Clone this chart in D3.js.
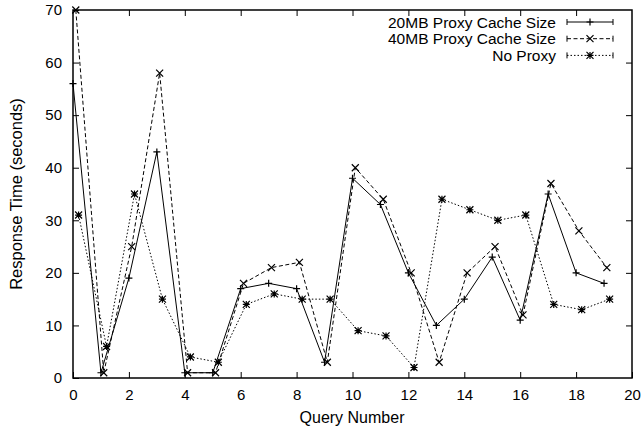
<!DOCTYPE html>
<html>
<head>
<meta charset="utf-8">
<script src="https://cdn.jsdelivr.net/npm/d3@7"></script>
<style>
 body { margin: 0; background: #fff; }
 text { font-family: "Liberation Sans", Arial, sans-serif; font-size: 15px; fill: #000; }
</style>
</head>
<body>
<script>
'use strict'
// Response time per query, three proxy setups (gnuplot style line chart)

const queries = d3.range(0, 20);
const proxy20 = [56, 1, 19, 43, 1, 1, 17, 18, 17, 3, 38, 33, 20, 10, 15, 23, 11, 35, 20, 18];
const proxy40 = [70, 1, 25, 58, 1, 1, 18, 21, 22, 3, 40, 34, 20, 3, 20, 25, 12, 37, 28, 21];
const noProxy = [31, 6, 35, 15, 4, 3, 14, 16, 15, 15, 9, 8, 2, 34, 32, 30, 31, 14, 13, 15];
const seriesNames = ["20MB Proxy Cache Size", "40MB Proxy Cache Size", "No Proxy"];
const xTicks = [0, 2, 4, 6, 8, 10, 12, 14, 16, 18, 20];
const yTicks = [0, 10, 20, 30, 40, 50, 60, 70];

// each series is drawn a little to the right of the previous one
const series = [
 { name: seriesNames[0], values: proxy20, shift: 0, dash: null, marker: "plus" },
 { name: seriesNames[1], values: proxy40, shift: 0.1, dash: "4,2.5", marker: "cross" },
 { name: seriesNames[2], values: noProxy, shift: 0.2, dash: "1.5,2", marker: "star" }
];

const width = 641, height = 431;
const plotLeft = 73, plotRight = 632, plotTop = 10, plotBottom = 378;

let svg = d3.select("body").append("svg")
 .attr("width", width)
 .attr("height", height);

let x = d3.scaleLinear().domain([0, 20]).range([plotLeft, plotRight]);
let y = d3.scaleLinear().domain([0, 70]).range([plotBottom, plotTop]);

// axes with inside ticks, mirrored on the other side
svg.append("g")
 .attr("transform", "translate(0," + plotBottom + ")")
 .call(d3.axisBottom(x).tickValues(xTicks).tickSize(-6).tickPadding(11).tickFormat(d3.format("d")))
 .call(g => g.select(".domain").remove());
svg.append("g")
 .attr("transform", "translate(0," + plotTop + ")")
 .call(d3.axisTop(x).tickValues(xTicks.slice(1, -1)).tickSize(-6).tickFormat(""))
 .call(g => g.select(".domain").remove());
svg.append("g")
 .attr("transform", "translate(" + plotLeft + ",0)")
 .call(d3.axisLeft(y).tickValues(yTicks).tickSize(-6).tickPadding(11).tickFormat(d3.format("d")))
 .call(g => g.select(".domain").remove());
svg.append("g")
 .attr("transform", "translate(" + plotRight + ",0)")
 .call(d3.axisRight(y).tickValues(yTicks.slice(1, -1)).tickSize(-6).tickFormat(""))
 .call(g => g.select(".domain").remove());

svg.selectAll(".tick text").style("font-size", "15px").attr("fill", "#000");
svg.selectAll(".tick line").attr("stroke", "#000");

// frame
svg.append("rect")
 .attr("x", plotLeft).attr("y", plotTop)
 .attr("width", plotRight - plotLeft).attr("height", plotBottom - plotTop)
 .attr("fill", "none").attr("stroke", "#000").attr("stroke-width", 1.5);

// marker paths
function markerPath(type, cx, cy) {
 const s = 3.5;
 const plus = "M" + (cx - s) + "," + cy + "H" + (cx + s) + "M" + cx + "," + (cy - s) + "V" + (cy + s);
 const cross = "M" + (cx - s) + "," + (cy - s) + "L" + (cx + s) + "," + (cy + s) +
  "M" + (cx - s) + "," + (cy + s) + "L" + (cx + s) + "," + (cy - s);
 if (type === "plus") return plus;
 if (type === "cross") return cross;
 return plus + cross;
}

let line = d3.line();

series.forEach(s => {
 let pts = queries.map((q, i) => [x(q + s.shift), y(s.values[i])]);
 svg.append("path")
  .attr("d", line(pts))
  .attr("fill", "none")
  .attr("stroke", "#000")
  .attr("stroke-width", 1)
  .attr("stroke-dasharray", s.dash);
 svg.append("g").selectAll("path")
  .data(pts)
  .join("path")
  .attr("d", p => markerPath(s.marker, p[0], p[1]))
  .attr("stroke", "#000")
  .attr("stroke-width", 1.2)
  .attr("fill", "none");
});

// legend
const legX1 = 567, legX2 = 613, legTextX = 556;
series.forEach((s, i) => {
 let ly = 22 + i * 16.7;
 let g = svg.append("g");
 g.append("text")
  .attr("x", legTextX).attr("y", ly + 5.5)
  .attr("text-anchor", "end")
  .style("font-size", "15.5px")
  .text(s.name);
 g.append("path")
  .attr("d", "M" + legX1 + "," + ly + "H" + legX2)
  .attr("stroke", "#000").attr("stroke-dasharray", s.dash);
 g.append("path")
  .attr("d", "M" + legX1 + "," + (ly - 3) + "V" + (ly + 3) + "M" + legX2 + "," + (ly - 3) + "V" + (ly + 3))
  .attr("stroke", "#000");
 g.append("path")
  .attr("d", markerPath(s.marker, (legX1 + legX2) / 2, ly))
  .attr("stroke", "#000").attr("stroke-width", 1.2).attr("fill", "none");
});

// axis titles
svg.append("text")
 .attr("x", 352).attr("y", 423)
 .attr("text-anchor", "middle")
 .style("font-size", "16px")
 .text("Query Number");
svg.append("text")
 .attr("transform", "translate(22,194) rotate(-90)")
 .attr("text-anchor", "middle")
 .style("font-size", "16.5px")
 .text("Response Time (seconds)");
</script>
</body>
</html>
